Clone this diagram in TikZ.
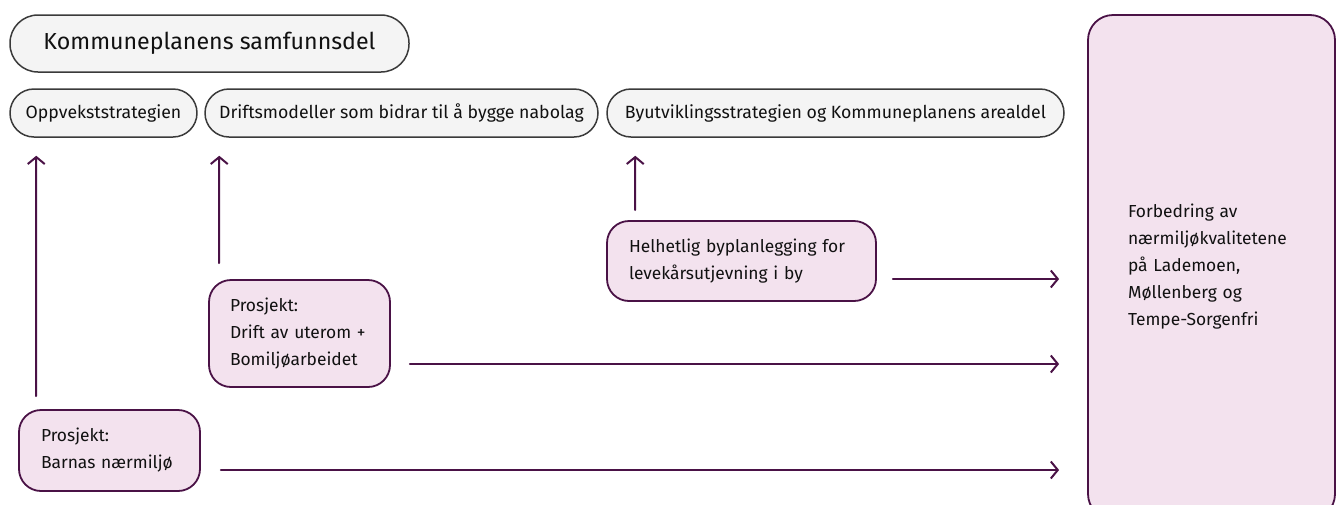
\documentclass[tikz,border=0pt]{standalone}
\usepackage{fontspec}
\setmainfont{Fira Sans}
\usetikzlibrary{arrows.meta}
\definecolor{plum}{HTML}{4A1246}
\definecolor{plumfill}{HTML}{F3E2EE}
\definecolor{greyfill}{HTML}{F4F4F4}
\definecolor{greyline}{HTML}{3A3A3A}
\definecolor{ink}{HTML}{111111}
\begin{document}
\begin{tikzpicture}[x=1pt,y=-1pt,line join=round,line cap=round,
    >={Straight Barb[length=7pt,width=17pt]},
    plan/.style={draw=greyline,fill=greyfill,line width=1.5pt,rounded corners=24pt,
        minimum height=48pt,inner sep=0pt,text=ink,font=\fontsize{17.7}{20}\selectfont},
    goal/.style={draw=plum,fill=plumfill,line width=1.8pt,rounded corners=22pt,
        align=left,inner ysep=0pt,text=ink,font=\fontsize{17.4}{27}\selectfont},
    flow/.style={->,draw=plum,line width=2pt}]
  \useasboundingbox (0,0) rectangle (1340,504);
  % styrende dokumenter
  \node[plan,minimum width=399pt,minimum height=57pt,rounded corners=28pt,
        font=\fontsize{23.2}{26}\selectfont] (samf) at (209.5,43.5) {Kommuneplanens samfunnsdel};
  \node[plan,minimum width=187pt] (opp) at (103.5,113) {Oppvekststrategien};
  \node[plan,minimum width=393pt] (drift) at (401.5,113) {Driftsmodeller som bidrar til å bygge nabolag};
  \node[plan,minimum width=457pt] (byut) at (835.5,113) {Byutviklingsstrategien og Kommuneplanens arealdel};
  % tiltak
  \node[goal,inner xsep=22pt,text width=225pt,minimum height=80pt] (helhet) at (741.5,261)
       {Helhetlig byplanlegging for\\levekårsutjevning i by};
  \node[goal,inner xsep=21pt,text width=139pt,minimum height=107pt] (uterom) at (299.5,333.5)
       {Prosjekt:\\Drift av uterom +\\Bomiljøarbeidet};
  \node[goal,inner xsep=22pt,text width=137pt,minimum height=81pt] (barn) at (109.5,450.5)
       {Prosjekt:\\Barnas nærmiljø};
  % mål
  \node[goal,inner xsep=40pt,text width=167pt,minimum height=504pt,rounded corners=25pt] (maal) at (1211.5,267)
       {Forbedring av\\nærmiljøkvalitetene\\på Lademoen,\\Møllenberg og\\Tempe-Sorgenfri};
  % piler
  \draw[flow] ([xshift=18pt,yshift=13pt]barn.north west) -- ([xshift=27pt,yshift=-18pt]opp.south west);
  \draw[flow] ([xshift=11pt,yshift=16pt]uterom.north west) -- ([xshift=15pt,yshift=-18pt]drift.south west);
  \draw[flow] ([xshift=29pt,yshift=10pt]helhet.north west) -- ([xshift=29pt,yshift=-18pt]byut.south west);
  \draw[flow,shorten >=28pt] ([xshift=16pt,yshift=-18pt]helhet.east) coordinate (h1) -- (h1 -| maal.west);
  \draw[flow,shorten >=28pt] ([xshift=19pt,yshift=-30.5pt]uterom.east) coordinate (u1) -- (u1 -| maal.west);
  \draw[flow,shorten >=28pt] ([xshift=20pt,yshift=-19.5pt]barn.east) coordinate (b1) -- (b1 -| maal.west);
\end{tikzpicture}
\end{document}
